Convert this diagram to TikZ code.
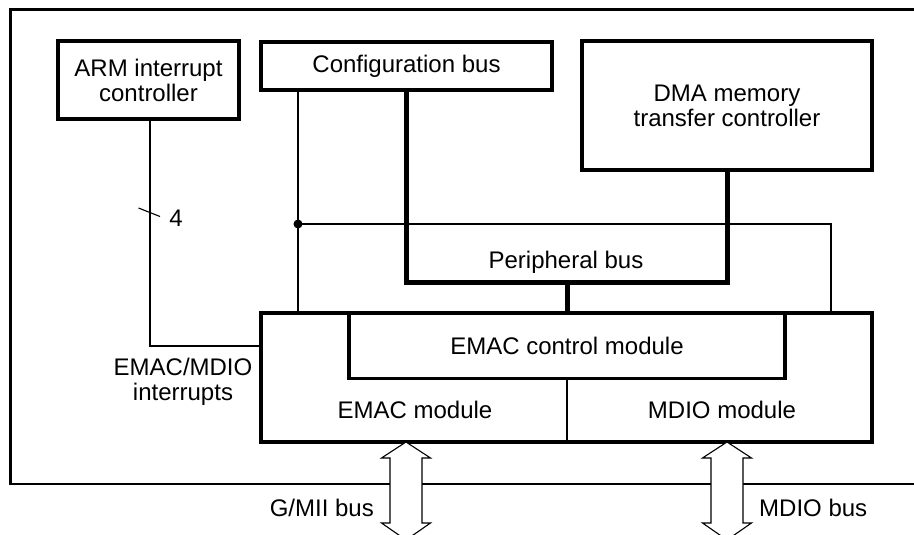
\documentclass[tikz,border=0pt]{standalone}
\usepackage{fontspec}
\setmainfont{Liberation Sans}
\usetikzlibrary{calc}
\begin{document}
\begin{tikzpicture}[x=1pt,y=-1pt,
  every node/.style={font=\fontsize{24}{25}\selectfont, inner sep=0pt, align=center},
  frame/.style={line width=2.4pt},
  blk/.style={draw, line width=3.2pt},
  thin/.style={line width=1.1pt},
  bus/.style={line width=5pt},
  dblarrow/.style={draw, line width=1.1pt, fill=white, line join=miter}]
\useasboundingbox (0,0) rectangle (914,535);
% outer frame (open on the right)
\draw[frame] (914,9.5) -- (10.5,9.5) -- (10.5,484) -- (914,484);
% blocks
\node[blk, minimum width=181pt, minimum height=78pt] (arm) at (148.5,80) {ARM interrupt\\controller};
\node[blk, minimum width=291pt, minimum height=48pt] (cfg) at (406.5,66) {Configuration bus};
\node[blk, minimum width=290pt, minimum height=129pt] (dma) at (727,105.5) {DMA memory\\transfer controller};
\node[blk, minimum width=611pt, minimum height=129pt] (emac) at (566.5,377.5) {};
\node[blk, minimum width=436pt, minimum height=65pt] (ctrl) at (567,346) {EMAC control module};
\coordinate (divT) at (567,378);
\coordinate (divB) at (567,442);
\draw[thin] (divT) -- (divB);
\node (emacm) at (415,410) {EMAC module};
\node (mdiom) at (722,410) {MDIO module};
% peripheral bus (thick)
\coordinate (pbL) at (406,282);
\coordinate (pbR) at (727,282);
\coordinate (pbM) at (567,282);
\draw[bus, line join=miter] (cfg.south -| pbL) -- (pbL) -- (pbR) -- (dma.south -| pbR);
\draw[bus] (pbM) -- (emac.north -| pbM);
\node (pblabel) at (566,262) {Peripheral bus};
% configuration lines (thin)
\coordinate (cv) at (298,224);
\coordinate (cr) at (831,224);
\draw[thin] (cfg.south -| cv) -- (emac.north -| cv);
\draw[thin] (cv) -- (cr) -- (emac.north -| cr);
\fill (cv) circle (4.5pt);
% interrupt line
\coordinate (ic) at (150,346);
\draw[thin] (arm.south -| ic) -- (ic) -- (emac.west |- ic);
\coordinate (tk1) at (138.5,208);
\coordinate (tk2) at (160,216.5);
\draw[thin] (tk1) -- (tk2);
\node (four) at (176,218) {4};
\node (intlabel) at (183,382) {EMAC/MDIO\\interrupts};
% double arrows
\foreach \cx/\nm in {406/gmii, 727/mdio}{
  \draw[dblarrow] (\cx,442) -- (\cx+24.5,458) -- (\cx+16,458) -- (\cx+16,523) -- (\cx+24.5,523)
    -- (\cx,540) -- (\cx-24.5,523) -- (\cx-16,523) -- (\cx-16,458) -- (\cx-24.5,458) -- cycle;
}
\node[anchor=east] (gmiil) at (374,508) {G/MII bus};
\node[anchor=west] (mdiol) at (759,508) {MDIO bus};
\end{tikzpicture}
\end{document}
